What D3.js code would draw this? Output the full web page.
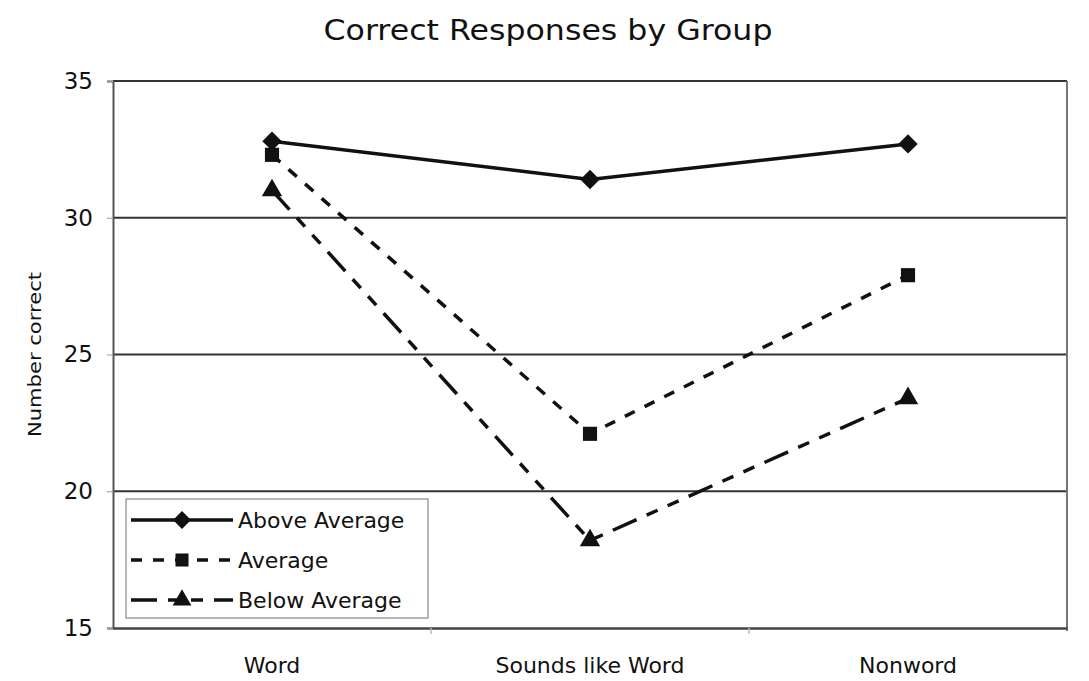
<!DOCTYPE html>
<html><head><meta charset="utf-8">
<script src="https://cdn.jsdelivr.net/npm/d3@7"></script>
<style>body{margin:0;background:#fff}svg{display:block}text{font-family:"DejaVu Sans",Verdana,sans-serif;fill:#111}</style>
</head><body>
<svg id="c" width="1089" height="681"></svg>
<script>
const categories = ["Word", "Sounds like Word", "Nonword"];
const seriesNames = ["Above Average", "Average", "Below Average"];
const aboveAverage = [32.8, 31.4, 32.7];
const average = [32.3, 22.1, 27.9];
const belowAverage = [31.0, 18.2, 23.4];
const yTicks = [15, 20, 25, 30, 35];
const title = "Correct Responses by Group";
const yLabel = "Number correct";

const series = [
  {name: seriesNames[0], values: aboveAverage, dash: null, symbol: d3.symbolDiamond2, size: 240},
  {name: seriesNames[1], values: average, dash: "11,11", symbol: d3.symbolSquare, size: 200},
  {name: seriesNames[2], values: belowAverage, dash: "26,11,12,11,12,11", symbol: d3.symbolTriangle, size: 180}
];

const svg = d3.select("#c");
const m = {l: 113, r: 1067, t: 81, b: 628};
const x = d3.scaleBand().domain(categories).range([m.l, m.r]);
const y = d3.scaleLinear().domain([15, 35]).range([m.b, m.t]);

// title
svg.append("text").attr("x", 548).attr("y", 40).attr("text-anchor", "middle")
  .style("font-size", "28px").attr("textLength", 449).attr("lengthAdjust", "spacingAndGlyphs").text(title);

// gridlines
svg.append("g").selectAll("line").data(yTicks.filter(v => v > 15)).join("line")
  .attr("x1", m.l).attr("x2", m.r).attr("y1", d => y(d)).attr("y2", d => y(d))
  .attr("stroke", "#333").attr("stroke-width", 2);
// right border
svg.append("line").attr("x1", m.r).attr("x2", m.r).attr("y1", m.t).attr("y2", m.b + 3)
  .attr("stroke", "#777").attr("stroke-width", 2);

// y axis
const ya = svg.append("g").attr("transform", `translate(${m.l},0)`)
  .call(d3.axisLeft(y).tickValues(yTicks).tickSize(6).tickPadding(14));
ya.select(".domain").attr("stroke", "#555").attr("stroke-width", 2);
ya.selectAll(".tick line").attr("stroke", "#999");
ya.selectAll(".tick text").style("font-size", "23px").attr("fill", "#222")
  .style("font-family", "'DejaVu Sans', sans-serif");

// x axis
const xa = svg.append("g").attr("transform", `translate(0,${m.b})`)
  .call(d3.axisBottom(x).tickSize(0).tickPadding(29));
xa.select(".domain").attr("stroke", "#444").attr("stroke-width", 2.5);
xa.selectAll(".tick text").style("font-size", "22px").attr("fill", "#222")
  .style("font-family", "'DejaVu Sans', sans-serif");
// band boundary ticks
svg.append("g").selectAll("line").data(categories.slice(1)).join("line")
  .attr("x1", d => x(d)).attr("x2", d => x(d)).attr("y1", m.b).attr("y2", m.b + 6)
  .attr("stroke", "#bbb").attr("stroke-width", 1.5);

// y label
svg.append("text").attr("transform", `translate(41,${(m.t + m.b) / 2}) rotate(-90)`)
  .attr("text-anchor", "middle").style("font-size", "17px")
  .attr("textLength", 165).attr("lengthAdjust", "spacingAndGlyphs").text(yLabel);

// lines
const line = d3.line().x((d, i) => x(categories[i]) + x.bandwidth() / 2).y(d => y(d));
series.forEach(s => {
  svg.append("path").datum(s.values).attr("d", line).attr("fill", "none")
    .attr("stroke", "#111").attr("stroke-width", 3.5)
    .attr("stroke-dasharray", s.dash);
  svg.append("g").selectAll("path").data(s.values).join("path")
    .attr("d", d3.symbol().type(s.symbol).size(s.size))
    .attr("transform", (d, i) => `translate(${x(categories[i]) + x.bandwidth() / 2},${y(d)})`)
    .attr("fill", "#111");
});

// legend
const lg = svg.append("g");
lg.append("rect").attr("x", 126).attr("y", 499).attr("width", 302).attr("height", 119)
  .attr("fill", "#fff").attr("stroke", "#888").attr("stroke-width", 1.2);
series.forEach((s, i) => {
  const cy = 520 + i * 40;
  lg.append("line").attr("x1", 131).attr("x2", 233).attr("y1", cy).attr("y2", cy)
    .attr("stroke", "#111").attr("stroke-width", 3.5).attr("stroke-dasharray", s.dash);
  lg.append("path").attr("d", d3.symbol().type(s.symbol).size(s.size * 0.85))
    .attr("transform", `translate(182,${cy})`).attr("fill", "#111");
  lg.append("text").attr("x", 238).attr("y", cy + 8).style("font-size", "22px").text(s.name);
});
</script>
</body></html>
